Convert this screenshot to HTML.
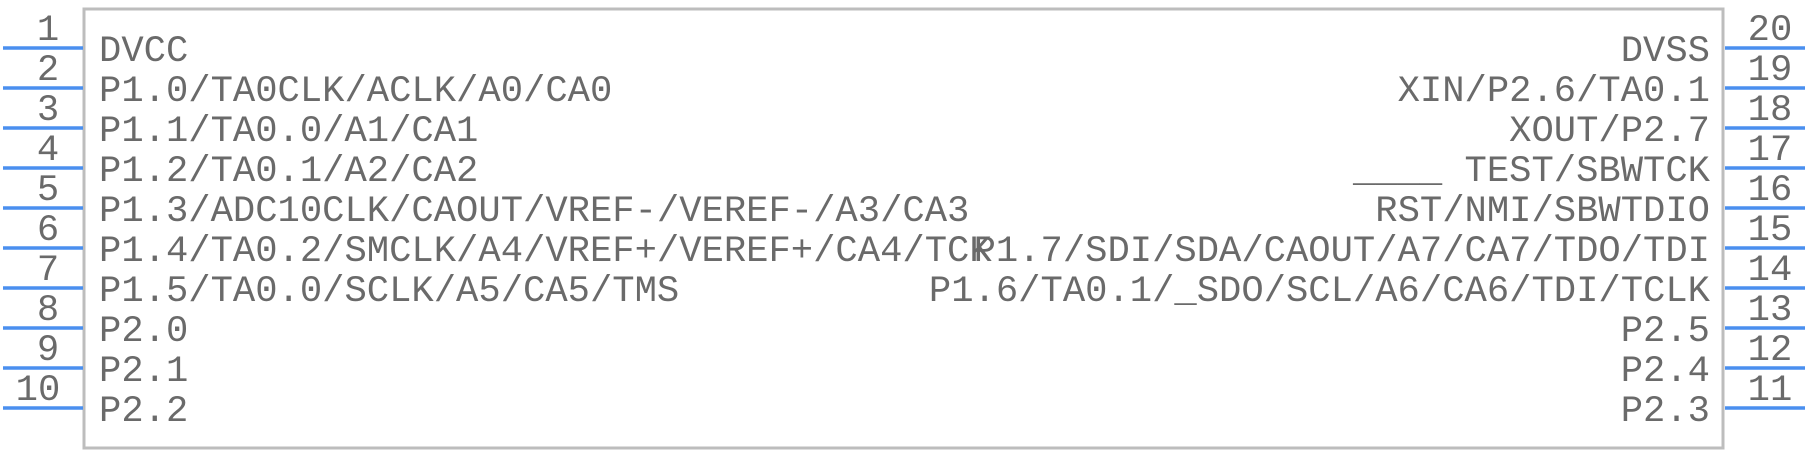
<!DOCTYPE html>
<html><head><meta charset="utf-8"><style>
html,body{margin:0;padding:0;background:#fff;}
svg{display:block;}
text{font-family:"Liberation Mono","Courier New",monospace;font-size:37.2px;fill:#6a6a6a;}
</style></head><body>
<svg width="1808" height="452" viewBox="0 0 1808 452" xmlns="http://www.w3.org/2000/svg" xml:space="preserve">
<rect x="84" y="9" width="1639" height="439" fill="#fff" stroke="#bdbdbd" stroke-width="3"/>
<g stroke="#4a8fef" stroke-width="3.5">
<line x1="3" y1="48" x2="83" y2="48"/><line x1="3" y1="88" x2="83" y2="88"/>
<line x1="3" y1="128" x2="83" y2="128"/><line x1="3" y1="168" x2="83" y2="168"/>
<line x1="3" y1="208" x2="83" y2="208"/><line x1="3" y1="248" x2="83" y2="248"/>
<line x1="3" y1="288" x2="83" y2="288"/><line x1="3" y1="328" x2="83" y2="328"/>
<line x1="3" y1="368" x2="83" y2="368"/><line x1="3" y1="408" x2="83" y2="408"/>
<line x1="1725" y1="48" x2="1805" y2="48"/><line x1="1725" y1="88" x2="1805" y2="88"/>
<line x1="1725" y1="128" x2="1805" y2="128"/><line x1="1725" y1="168" x2="1805" y2="168"/>
<line x1="1725" y1="208" x2="1805" y2="208"/><line x1="1725" y1="248" x2="1805" y2="248"/>
<line x1="1725" y1="288" x2="1805" y2="288"/><line x1="1725" y1="328" x2="1805" y2="328"/>
<line x1="1725" y1="368" x2="1805" y2="368"/><line x1="1725" y1="408" x2="1805" y2="408"/>
</g>
<g text-anchor="middle">
<text x="48" y="40">1</text><text x="48" y="80">2</text><text x="48" y="120">3</text>
<text x="48" y="160">4</text><text x="48" y="200">5</text><text x="48" y="240">6</text>
<text x="48" y="280">7</text><text x="48" y="320">8</text><text x="48" y="360">9</text>
<text x="38" y="400">10</text>
<text x="1770" y="40">20</text><text x="1770" y="80">19</text><text x="1770" y="120">18</text>
<text x="1770" y="160">17</text><text x="1770" y="200">16</text><text x="1770" y="240">15</text>
<text x="1770" y="280">14</text><text x="1770" y="320">13</text><text x="1770" y="360">12</text>
<text x="1770" y="400">11</text>
</g>
<g>
<text x="99" y="61">DVCC</text>
<text x="99" y="101">P1.0/TA0CLK/ACLK/A0/CA0</text>
<text x="99" y="141">P1.1/TA0.0/A1/CA1</text>
<text x="99" y="181">P1.2/TA0.1/A2/CA2</text>
<text x="99" y="221">P1.3/ADC10CLK/CAOUT/VREF-/VEREF-/A3/CA3</text>
<text x="99" y="261">P1.4/TA0.2/SMCLK/A4/VREF+/VEREF+/CA4/TCK</text>
<text x="99" y="301">P1.5/TA0.0/SCLK/A5/CA5/TMS</text>
<text x="99" y="341">P2.0</text>
<text x="99" y="381">P2.1</text>
<text x="99" y="421">P2.2</text>
</g>
<g text-anchor="end">
<text x="1710" y="61">DVSS</text>
<text x="1710" y="101">XIN/P2.6/TA0.1</text>
<text x="1710" y="141">XOUT/P2.7</text>
<text x="1710" y="181">____ TEST/SBWTCK</text>
<text x="1710" y="221">RST/NMI/SBWTDIO</text>
<text x="1710" y="261">P1.7/SDI/SDA/CAOUT/A7/CA7/TDO/TDI</text>
<text x="1710" y="301">P1.6/TA0.1/_SDO/SCL/A6/CA6/TDI/TCLK</text>
<text x="1710" y="341">P2.5</text>
<text x="1710" y="381">P2.4</text>
<text x="1710" y="421">P2.3</text>
</g>
</svg>
</body></html>
